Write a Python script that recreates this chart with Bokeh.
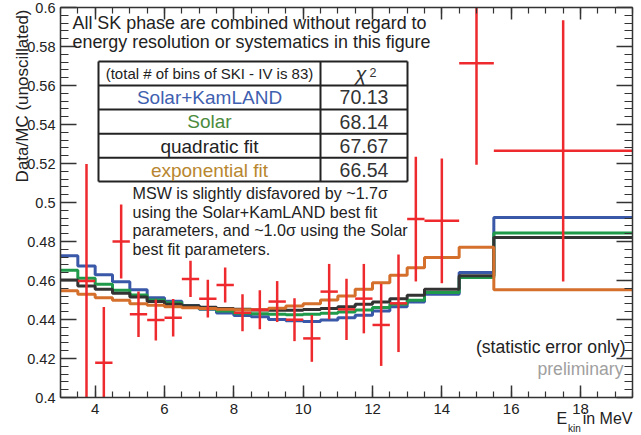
import math
from bokeh.plotting import figure
from bokeh.models import Range1d, FixedTicker, LinearAxis, Label, NumeralTickFormatter
from bokeh.embed import file_html
from bokeh.resources import INLINE

# ---------------- data ----------------
model_edges = [3.0, 3.5, 4.0, 4.5, 5.0, 5.5, 6.0, 6.5, 7.0, 7.5, 8.0, 8.5, 9.0, 9.5,
               10.0, 10.5, 11.0, 11.5, 12.0, 12.5, 13.0, 13.5, 14.5, 15.5, 19.5]
solar_kamland = [0.4727, 0.4675, 0.4629, 0.4593, 0.4552, 0.4512, 0.4493, 0.4472, 0.4452, 0.4433,
                 0.4420, 0.4414, 0.4400, 0.4393, 0.4390, 0.4398, 0.4409, 0.4422, 0.4444, 0.4466,
                 0.4490, 0.4530, 0.4641, 0.4923]
solar = [0.4653, 0.4612, 0.4581, 0.4550, 0.4526, 0.4500, 0.4486, 0.4468, 0.4455, 0.4444,
         0.4432, 0.4430, 0.4427, 0.4424, 0.4427, 0.4432, 0.4439, 0.4449, 0.4461, 0.4478,
         0.4499, 0.4538, 0.4615, 0.4843]
quadratic = [0.4602, 0.4572, 0.4555, 0.4535, 0.4516, 0.4492, 0.4478, 0.4470, 0.4463, 0.4457,
             0.4452, 0.4449, 0.4448, 0.4448, 0.4451, 0.4457, 0.4466, 0.4478, 0.4490, 0.4507,
             0.4524, 0.4555, 0.4624, 0.4821]
exponential = [0.4547, 0.4530, 0.4512, 0.4499, 0.4481, 0.4473, 0.4466, 0.4460, 0.4456, 0.4452,
               0.4450, 0.4450, 0.4458, 0.4469, 0.4481, 0.4500, 0.4521, 0.4555, 0.4589, 0.4627,
               0.4666, 0.4718, 0.4771, 0.4552]

data_lo = [3.5, 4.0, 4.5, 5.0, 5.5, 6.0, 6.5, 7.0, 7.5, 8.0, 8.5, 9.0, 9.5, 10.0, 10.5,
           11.0, 11.5, 12.0, 12.5, 13.0, 13.5, 14.5, 15.5]
data_hi = [4.0, 4.5, 5.0, 5.5, 6.0, 6.5, 7.0, 7.5, 8.0, 8.5, 9.0, 9.5, 10.0, 10.5, 11.0,
           11.5, 12.0, 12.5, 13.0, 13.5, 14.5, 15.5, 19.5]
data_val = [0.4598, 0.4178, 0.4800, 0.4427, 0.4397, 0.4409, 0.4608, 0.4507, 0.4577, 0.4435,
            0.4450, 0.4492, 0.4399, 0.4303, 0.4543, 0.4452, 0.4507, 0.4372, 0.4483, 0.4915,
            0.4906, 0.5714, 0.5265]
data_err = [0.0600, 0.0286, 0.0190, 0.0117, 0.0105, 0.0096, 0.0093, 0.0097, 0.0090, 0.0095,
            0.0100, 0.0105, 0.0110, 0.0120, 0.0142, 0.0157, 0.0178, 0.0210, 0.0250, 0.0320,
            0.0320, 0.0520, 0.0670]

x_ticks = [4, 6, 8, 10, 12, 14, 16, 18]
x_tick_labels = ["4", "6", "8", "10", "12", "14", "16", "18"]
y_ticks = [0.4, 0.42, 0.44, 0.46, 0.48, 0.5, 0.52, 0.54, 0.56, 0.58, 0.6]
y_tick_labels = ["0.4", "0.42", "0.44", "0.46", "0.48", "0.5", "0.52", "0.54", "0.56", "0.58", "0.6"]

fit_names = ["Solar+KamLAND", "Solar", "quadratic fit", "exponential fit"]
chi2_values = ["70.13", "68.14", "67.67", "66.54"]

# ---------------- layout ----------------
X0, X1, Y0, Y1 = 3.0, 19.5, 0.4, 0.6
FL, FR, FT, FB = 60, 632, 7, 397          # ROOT frame edges in canvas pixels
W, H = 641, 435

def px2x(px):
    return X0 + (px - FL) * (X1 - X0) / (FR - FL)

def px2y(py):
    return Y1 - (py - FT) * (Y1 - Y0) / (FB - FT)

FONT = "Liberation Sans"
AX = "#333333"

p = figure(width=W, height=H,
           x_range=Range1d(px2x(0), px2x(W)), y_range=Range1d(px2y(H), px2y(0)),
           output_backend="svg", toolbar_location=None,
           min_border=0, min_border_left=0, min_border_right=0,
           min_border_top=0, min_border_bottom=0)
p.xgrid.visible = False
p.ygrid.visible = False
p.outline_line_color = None
p.background_fill_color = "white"
p.border_fill_color = "white"

x_minor = [X0 + 0.5 * i for i in range(int((X1 - X0) / 0.5) + 1)]
y_minor = [round(Y0 + 0.004 * i, 4) for i in range(51)]

def style_axis(ax, tick_len, minor_len, loc, bounds, labels=True):
    ax.fixed_location = loc
    ax.bounds = bounds
    ax.major_tick_in = tick_len
    ax.major_tick_out = 0
    ax.minor_tick_in = minor_len
    ax.minor_tick_out = 0
    ax.axis_line_color = AX
    ax.axis_line_width = 1.5
    ax.major_tick_line_color = AX
    ax.major_tick_line_width = 1.5
    ax.minor_tick_line_color = AX
    ax.minor_tick_line_width = 1.2
    if labels:
        ax.major_label_text_font = FONT
        ax.major_label_text_color = "#222222"
    else:
        ax.major_label_text_color = None
        ax.major_label_text_alpha = 0
        ax.major_label_standoff = 0

xax = p.xaxis[0]
yax = p.yaxis[0]
xax.ticker = FixedTicker(ticks=x_ticks, minor_ticks=x_minor)
yax.ticker = FixedTicker(ticks=y_ticks, minor_ticks=y_minor)
xax.major_label_overrides = dict(zip(x_ticks, x_tick_labels))
yax.major_label_overrides = dict(zip(y_ticks, y_tick_labels))
yax.formatter = NumeralTickFormatter(format="0.[00]")
style_axis(xax, 12, 6, Y0, (X0, X1))
style_axis(yax, 16, 8, X0, (Y0, Y1))
xax.major_label_text_font_size = "15px"
yax.major_label_text_font_size = "14.5px"
xax.major_label_standoff = 6
yax.major_label_standoff = 5

top_ax = LinearAxis(ticker=FixedTicker(ticks=x_ticks, minor_ticks=x_minor))
top_ax.major_label_overrides = {t: "" for t in x_ticks}
style_axis(top_ax, 12, 6, Y1, (X0, X1), labels=False)
p.add_layout(top_ax, "above")
right_ax = LinearAxis(ticker=FixedTicker(ticks=y_ticks, minor_ticks=y_minor))
right_ax.major_label_overrides = {t: "" for t in y_ticks}
style_axis(right_ax, 16, 8, X1, (Y0, Y1), labels=False)
p.add_layout(right_ax, "right")

# ---------------- model histograms ----------------
colors = ["#3a58a8", "#1f9a4a", "#333333", "#d4702c"]
for vals, c in zip([solar_kamland, solar, quadratic, exponential], colors):
    p.step(x=model_edges, y=vals + [vals[-1]], mode="after", line_color=c, line_width=3)

# ---------------- data points (error bars clipped to the frame) ----------------
RED = "#ee2a2e"
centers = [(a + b) / 2 for a, b in zip(data_lo, data_hi)]
err_lo = [max(v - e, Y0) for v, e in zip(data_val, data_err)]
err_hi = [min(v + e, Y1) for v, e in zip(data_val, data_err)]
p.segment(x0=data_lo, y0=data_val, x1=data_hi, y1=data_val, line_color=RED, line_width=2.5)
p.segment(x0=centers, y0=err_lo, x1=centers, y1=err_hi, line_color=RED, line_width=2.5)

# ---------------- annotations ----------------
def lab(text, px, py, size, color="#222222", align="left", style="normal", angle=0.0):
    p.add_layout(Label(x=px2x(px), y=px2y(py), text=text, text_font=FONT,
                       text_font_size=f"{size}px", text_color=color, text_align=align,
                       text_baseline="middle", text_font_style=style, angle=angle))

lab("All SK phase are combined without regard to", 72, 22.5, 17.9)
lab("energy resolution or systematics in this figure", 72, 41, 17.9)

# table
TL, TM, TR = 98, 320, 407
rows = [61, 85, 109, 133.3, 157.3, 181]
tx0, tx1, ty0, ty1 = [], [], [], []
for r in rows:
    tx0.append(px2x(TL)); tx1.append(px2x(TR)); ty0.append(px2y(r)); ty1.append(px2y(r))
for c in (TL, TM, TR):
    tx0.append(px2x(c)); tx1.append(px2x(c)); ty0.append(px2y(rows[0])); ty1.append(px2y(rows[-1]))
p.segment(x0=tx0, y0=ty0, x1=tx1, y1=ty1, line_color="#222222", line_width=2)

lab("(total # of bins of SKI - IV is 83)", (TL + TM) / 2, 73, 15, align="center")
lab("\u03c7", 360.5, 73, 20, color="#333333", align="center", style="italic")
lab("2", 369, 71.5, 12.5, color="#333333", align="left")
name_colors = ["#3f5fb0", "#4b8b3d", "#222222", "#b8862e"]
centers_y = [96.5, 121, 145.5, 169.7]
for name, col, val, cy in zip(fit_names, name_colors, chi2_values, centers_y):
    lab(name, (TL + TM) / 2, cy, 19, color=col, align="center")
    lab(val, (TM + TR) / 2, cy, 19.5, color="#333333", align="center")

msw = ["MSW is slightly disfavored by ~1.7\u03c3",
       "using the Solar+KamLAND best fit",
       "parameters, and ~1.0\u03c3 using the Solar",
       "best fit parameters."]
for i, line in enumerate(msw):
    lab(line, 132, 192.5 + 18.5 * i, 16.1)

lab("(statistic error only)", 625, 346.3, 17.6, align="right")
lab("preliminary", 623, 368.3, 17.6, color="#a0a0a0", align="right")

# axis titles
lab("Data/MC (unoscillated)", 21.5, 9, 17, color="#222222", align="right",
    angle=math.pi / 2)
lab("E", 556, 418, 16)
lab("kin", 567.5, 428, 10)
lab("in MeV", 632, 417.5, 16, align="right")

open("out.html", "w").write(file_html(p, INLINE))
